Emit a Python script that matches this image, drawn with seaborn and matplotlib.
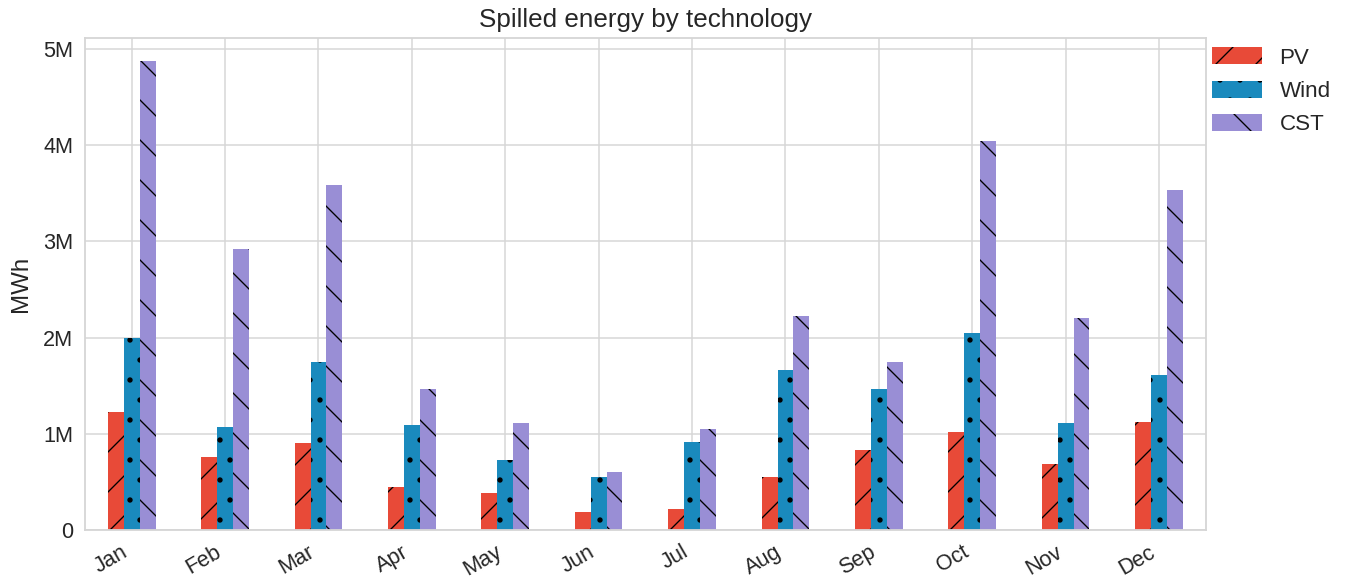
import numpy as np
import pandas as pd
import matplotlib
matplotlib.use("Agg")
import matplotlib.pyplot as plt
from matplotlib.ticker import FuncFormatter
from matplotlib.patches import Patch
import seaborn as sns

months = ["Jan", "Feb", "Mar", "Apr", "May", "Jun", "Jul", "Aug", "Sep", "Oct", "Nov", "Dec"]
techs = ["PV", "Wind", "CST"]
pv = [1.23, 0.76, 0.90, 0.45, 0.38, 0.19, 0.22, 0.55, 0.83, 1.02, 0.69, 1.12]
wind = [2.00, 1.07, 1.75, 1.09, 0.725, 0.55, 0.91, 1.66, 1.47, 2.05, 1.11, 1.61]
cst = [4.87, 2.92, 3.59, 1.47, 1.11, 0.60, 1.05, 2.22, 1.75, 4.04, 2.20, 3.53]
colors = ["#E84A38", "#1A8ABD", "#998ED5"]
hatches = ["/", ".", "\\"]

df = pd.DataFrame({
    "month": months * 3,
    "tech": [t for t in techs for _ in months],
    "value": [v * 1e6 for v in pv + wind + cst],
})

sns.set_theme(style="whitegrid")
plt.rcParams["font.family"] = ["Liberation Sans", "DejaVu Sans"]
plt.rcParams["hatch.linewidth"] = 0.8

DPI = 120
fig = plt.figure(figsize=(1349 / DPI, 581 / DPI), dpi=DPI)
ax = fig.add_axes([0.063, 0.0878, 0.8308, 0.8463])

sns.barplot(data=df, x="month", y="value", hue="tech", order=months, hue_order=techs,
            palette=colors, width=0.51, gap=0, dodge=True, errorbar=None, ax=ax,
            linewidth=0, saturation=1.0)

for cont, h in zip(ax.containers, hatches):
    for p in cont.patches:
        p.set_hatch(h)
        p.set_edgecolor("black")
        p.set_linewidth(0)
        try:
            p.set_hatchcolor("black")
        except Exception:
            pass

ax.set_ylim(0, 5.11e6)
ax.set_xlim(-0.5, 11.5)
ax.yaxis.set_major_formatter(FuncFormatter(lambda v, pos: "0" if v == 0 else f"{v/1e6:.0f}M"))
ax.set_xlabel("")
ax.set_ylabel("MWh", fontsize=14.5, labelpad=7)
ax.set_title("Spilled energy by technology", fontsize=15.6, pad=7)
ax.tick_params(axis="both", labelsize=13.0, length=0, pad=7)
plt.setp(ax.get_xticklabels(), rotation=30, ha="right")
ax.grid(True, axis="both", color="#d6d6d6", linewidth=0.9)
for s in ax.spines.values():
    s.set_color("#d6d6d6")
    s.set_linewidth(1.1)
ax.set_axisbelow(True)

leg = ax.get_legend()
if leg is not None:
    leg.remove()
hs = []
for c, h in zip(colors, hatches):
    pp = Patch(facecolor=c, edgecolor="black", linewidth=0, hatch=h)
    try:
        pp.set_hatchcolor("black")
    except Exception:
        pass
    hs.append(pp)
ax.legend(hs, techs, loc="upper left", bbox_to_anchor=(0.998, 1.0), frameon=False,
          fontsize=13.4, handlelength=2.2, handleheight=0.8, labelspacing=0.54,
          handletextpad=0.8, borderaxespad=0.0, borderpad=0.4)

fig.savefig("out.png", dpi=DPI)
